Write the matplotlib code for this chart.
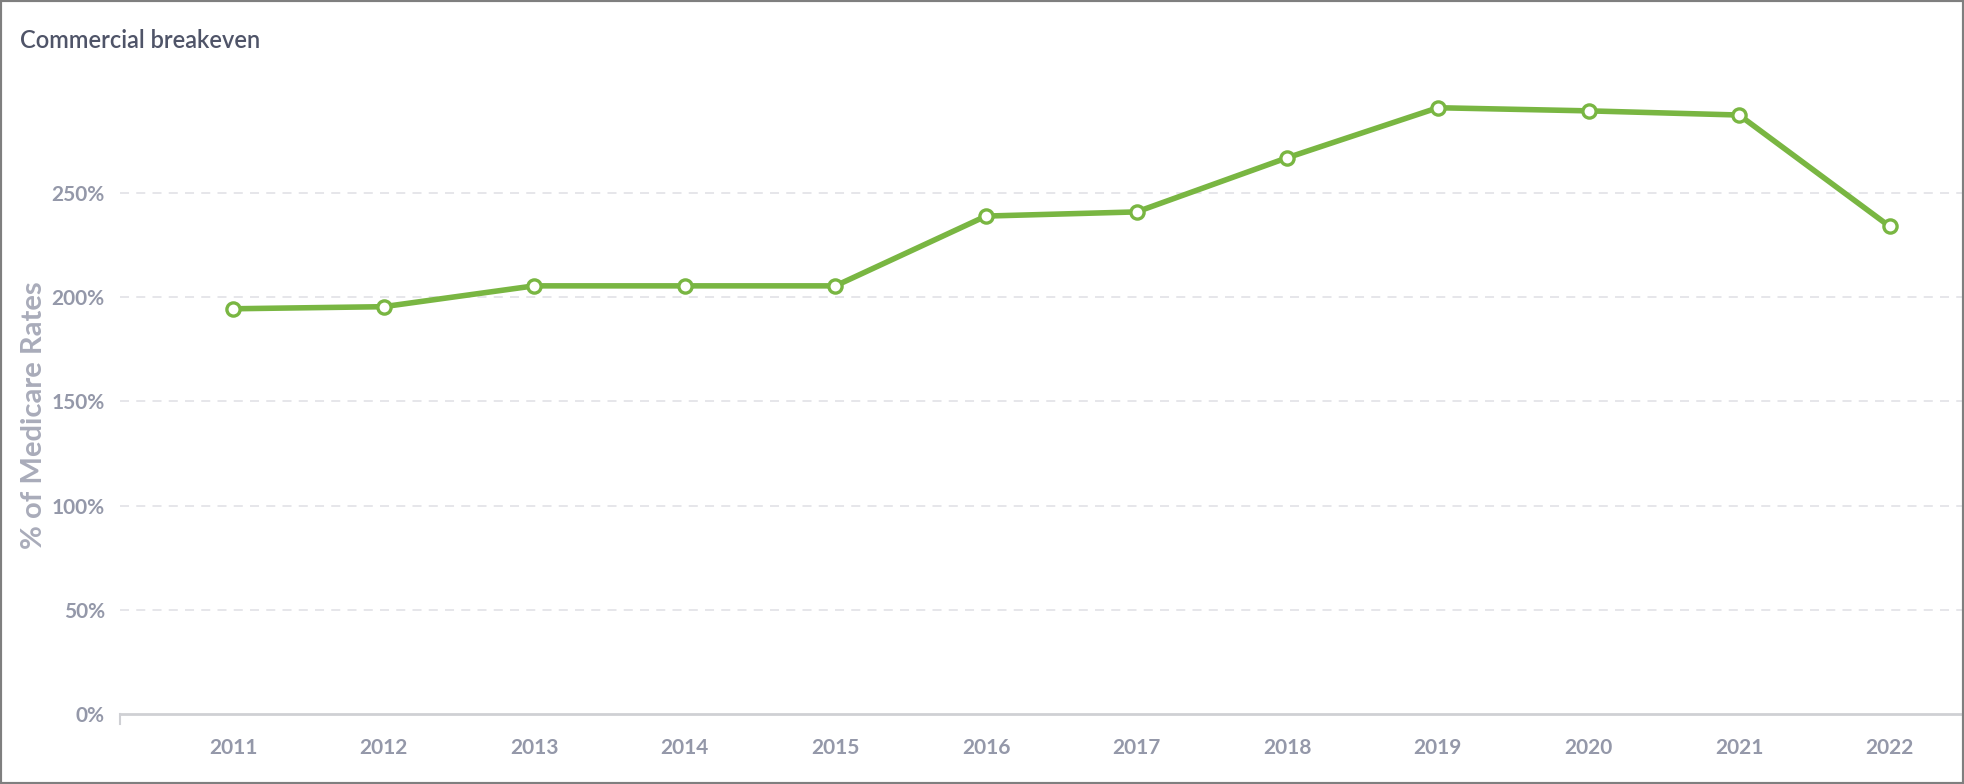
import matplotlib.pyplot as plt
from matplotlib.patches import Rectangle
from matplotlib.lines import Line2D

# data
years = ['2011', '2012', '2013', '2014', '2015', '2016',
         '2017', '2018', '2019', '2020', '2021', '2022']
breakeven = [194.5, 195.5, 205.5, 205.5, 205.5, 239, 241, 267, 291, 289.5, 287.5, 234]
yticks = [0, 50, 100, 150, 200, 250]

plt.rcParams['font.family'] = ['Lato', 'DejaVu Sans']

fig = plt.figure(figsize=(19.64, 7.84), dpi=100)
ax = fig.add_axes([0.0611, 0.0893, 0.9379, 0.7972])

x = list(range(len(years)))
ax.plot(x, breakeven, color='#79b642', lw=4, marker='o', markersize=9.5,
        markerfacecolor='white', markeredgecolor='#79b642', markeredgewidth=2.4, zorder=3)

ax.set_xlim(-0.75, len(years) - 1 + 0.48)
ax.set_ylim(0, 300)
ax.set_yticks(yticks)
ax.set_yticklabels([f'{v}%' for v in yticks], fontsize=15, fontweight='bold', color='#9498a9')
ax.set_xticks(x)
ax.set_xticklabels(years, fontsize=15, fontweight='bold', color='#9498a9')
ax.tick_params(axis='y', length=0, pad=11)
ax.tick_params(axis='x', length=0, pad=17)

for v in yticks[1:]:
    ax.axhline(v, color='#e4e4e8', lw=1.3, ls=(0, (5, 4)), zorder=1)

for s in ['top', 'right', 'left']:
    ax.spines[s].set_visible(False)
ax.spines['bottom'].set_color('#cfd0d4')
ax.spines['bottom'].set_linewidth(2)
# small tick at the left end of the x axis
ax.add_line(Line2D([-0.75, -0.75], [0, -5], color='#cfd0d4', lw=1.5, clip_on=False))

fig.text(0.0173, 1 - 415 / 784, '% of Medicare Rates', rotation=90, ha='center', va='center',
         fontsize=21, fontweight='bold', color='#a9acba')
fig.text(0.0102, 1 - 40 / 784, 'Commercial breakeven', ha='left', va='center',
         fontsize=17, fontweight='semibold', color='#4f5468')

# grey frame round the figure
fig.patches.append(Rectangle((0, 0), 1, 1, transform=fig.transFigure, fill=False,
                             edgecolor='#7f7f7f', lw=3))

fig.savefig('out.png', dpi=100)
